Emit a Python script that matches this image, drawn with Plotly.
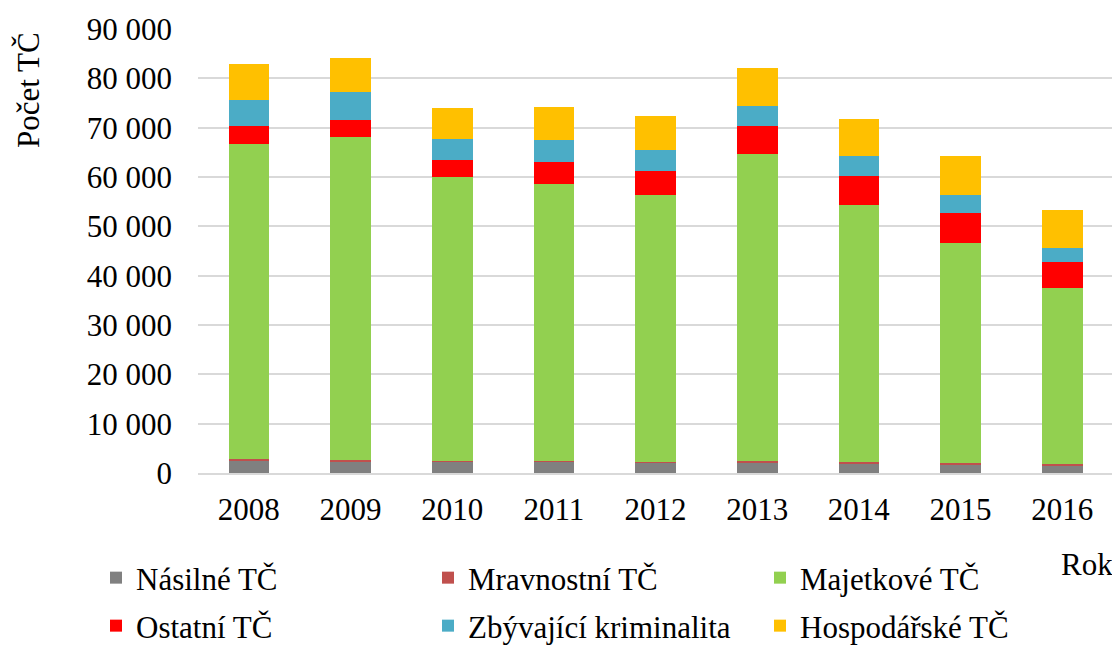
import plotly.graph_objects as go

years = ["2008", "2009", "2010", "2011", "2012", "2013", "2014", "2015", "2016"]
nasilne = [2500, 2400, 2350, 2350, 2100, 2150, 2000, 1700, 1500]
mravnostni = [250, 150, 150, 150, 200, 200, 250, 300, 350]
majetkove = [64030, 65590, 57530, 55990, 54080, 62340, 52100, 44610, 35670]
ostatni = [3530, 3390, 3450, 4640, 4930, 5740, 5820, 6020, 5210]
zbyvajici = [5390, 5740, 4200, 4470, 4260, 4060, 4180, 3790, 2960]
hospodarske = [7250, 6830, 6340, 6490, 6770, 7510, 7440, 7770, 7690]

names = ["Násilné TČ", "Mravnostní TČ", "Majetkové TČ",
         "Ostatní TČ", "Zbývající kriminalita", "Hospodářské TČ"]
values = [nasilne, mravnostni, majetkove, ostatni, zbyvajici, hospodarske]
colors = ["#808080", "#C0504D", "#92D050", "#FF0000", "#4BACC6", "#FFC000"]

FONT = "Liberation Serif, Times New Roman, serif"
FS = 31
# page has an 8px body margin: figure coordinates = page coordinates - 8
OFF = 8
W, H = 1120 - OFF, 645 - OFF
L, T = 198 - OFF, 29 - OFF
R = W - (1113 - OFF)
B = H - (473 - OFF)
PW, PH = W - L - R, H - T - B

def px_x(x):
    return (x - OFF - L) / PW

def px_y(y):
    return (H - B - (y - OFF)) / PH

# legend grid: 3 columns x 2 rows (page pixel positions of text start / row centre)
col_x = [137, 469, 801]
row_y = [578, 626]

fig = go.Figure()
legends = {}
for i, (name, vals, col) in enumerate(zip(names, values, colors)):
    lg = "legend" if i == 0 else f"legend{i + 1}"
    fig.add_trace(go.Bar(x=years, y=vals, name=name,
                         marker=dict(color=col, line=dict(width=0)), legend=lg))
    legends[lg] = dict(
        orientation="h", xref="container", yref="container",
        xanchor="left", yanchor="middle",
        x=(col_x[i % 3] - OFF - 41) / W, y=1 - (row_y[i // 3] - OFF) / H,
        font=dict(family=FONT, size=FS, color="black"),
        bgcolor="rgba(0,0,0,0)", itemwidth=30,
    )

fig.update_layout(
    barmode="stack",
    bargap=0.6,
    width=W, height=H,
    margin=dict(l=L, r=R, t=T, b=B, autoexpand=False),
    paper_bgcolor="white", plot_bgcolor="white",
    separators=", ",
    font=dict(family=FONT, size=FS, color="black"),
    showlegend=True,
    annotations=[
        dict(text="Rok", xref="paper", yref="paper", x=px_x(1115), y=px_y(564),
             xanchor="right", yanchor="middle", showarrow=False,
             font=dict(family=FONT, size=FS)),
        dict(text="Počet TČ", xref="paper", yref="paper", x=px_x(28), y=px_y(90),
             xanchor="center", yanchor="middle", textangle=-90, showarrow=False,
             font=dict(family=FONT, size=FS)),
    ],
    **legends,
)
fig.update_yaxes(range=[0, 90000], dtick=10000, tickformat=",d", showgrid=True,
                 gridcolor="#D9D9D9", gridwidth=1.5, zeroline=False, showline=False,
                 ticklabelstandoff=25, tickfont=dict(family=FONT, size=FS))
fig.update_xaxes(showline=True, linecolor="#D9D9D9", linewidth=1.5, ticks="",
                 ticklabelstandoff=8, tickfont=dict(family=FONT, size=FS))

fig.write_html("out.html")
